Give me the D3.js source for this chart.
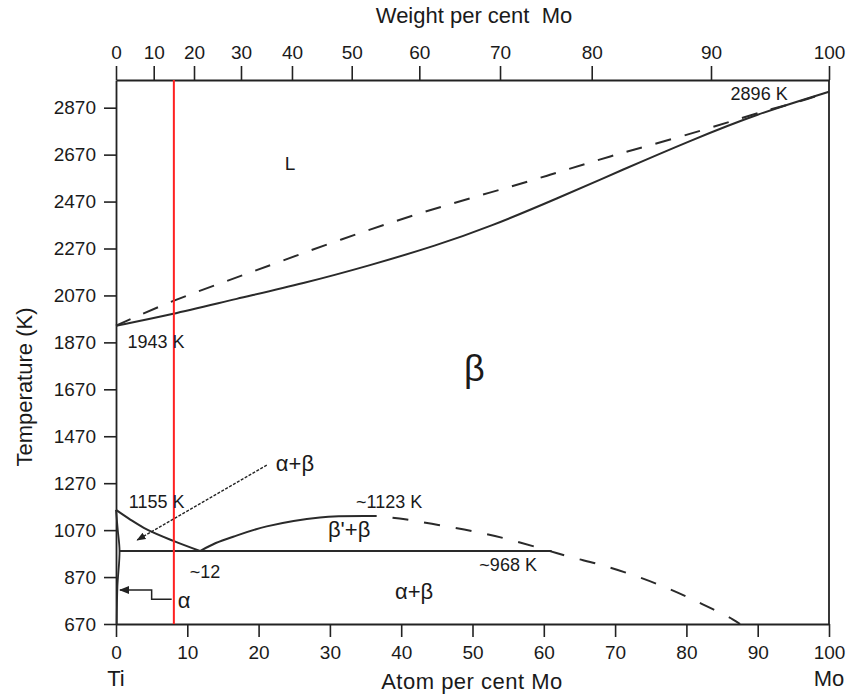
<!DOCTYPE html>
<html>
<head>
<meta charset="utf-8">
<script src="https://cdn.jsdelivr.net/npm/d3@7"></script>
<style>
  html, body { margin: 0; padding: 0; background: #fff; }
  text { font-family: "Liberation Sans", Arial, Helvetica, sans-serif; fill: #1a1a1a; }
</style>
</head>
<body>
<svg id="chart" width="850" height="698"></svg>
<script>
// ---------- data (atom % Mo, temperature K) ----------
const atomTicks = [0, 10, 20, 30, 40, 50, 60, 70, 80, 90, 100];
const weightTicks = [0, 10, 20, 30, 40, 50, 60, 70, 80, 90, 100];
// atom % position of each weight % tick
const weightTickAtom = [0, 5.29, 10.94, 17.53, 24.68, 33.06, 42.54, 53.86, 66.72, 83.45, 100];
const tempTicks = [670, 870, 1070, 1270, 1470, 1670, 1870, 2070, 2270, 2470, 2670, 2870];
const tempDomain = [670, 2988];

const liquidus = [[0, 1941], [8.04, 2051], [18.33, 2161], [30.48, 2299], [43.1, 2427], [52.45, 2508],
  [60.87, 2583], [69.28, 2664], [77.94, 2735], [87.05, 2818], [91.26, 2860], [95.47, 2891], [100, 2938]];
const solidus = [[0, 1941], [7.57, 1987], [16.93, 2056], [26.27, 2121], [35.62, 2198], [44.98, 2283],
  [52.45, 2363], [61.81, 2482], [71.15, 2607], [80.5, 2729], [89.86, 2843], [100, 2938]];
const betaTransus = [[0, 1156], [2, 1115], [4.31, 1073], [7.95, 1025], [11.78, 981]];
const gapSolid = [[11.78, 981], [14, 1015], [16.44, 1042], [21.14, 1086], [28.6, 1124], [36.56, 1130]];
const gapDashed = [[36.56, 1130], [40.53, 1116], [45.2, 1092], [50.11, 1065], [54.88, 1032], [59.8, 990],
  [63.53, 957], [68.12, 921], [73.03, 873], [77.7, 818], [82.15, 756], [86.49, 690], [87.52, 670]];
const alphaSolvus = [[0, 1156], [0.25, 1070], [0.5, 981], [0.2, 830], [0.1, 670]];
const eutectoid = [[0.5, 981], [61.1, 981]];
const redLineWeight = 15;

const alphaBetaArrow = [[21.15, 1347], [2.98, 1028]];
const alphaLeader = [[0.56, 815], [5.0, 815], [5.0, 775], [7.81, 775]];

const labels = [
  { t: "L", x: 24.4, T: 2633, s: 19 },
  { t: "β", x: 50.25, T: 1760, s: 36 },
  { t: "1943 K", x: 5.6, T: 1873, s: 18 },
  { t: "2896 K", x: 90.2, T: 2931, s: 18 },
  { t: "1155 K", x: 5.7, T: 1191, s: 18 },
  { t: "~1123 K", x: 38.3, T: 1191, s: 18 },
  { t: "β'+β", x: 32.7, T: 1072, s: 22 },
  { t: "~12", x: 12.48, T: 893, s: 18 },
  { t: "~968 K", x: 55.0, T: 921, s: 18 },
  { t: "α+β", x: 41.8, T: 808, s: 22 },
  { t: "α", x: 9.54, T: 772, s: 22 },
  { t: "α+β", x: 25.1, T: 1355, s: 22 }
];

// ---------- drawing ----------
const svg = d3.select("#chart");
const x = d3.scaleLinear().domain([0, 100]).range([116, 829]);
const y = d3.scaleLinear().domain(tempDomain).range([624, 80]);
const wt = d3.scaleLinear().domain(weightTicks).range(weightTickAtom.map(v => x(v)));

const lineRaw = d3.line().x(d => x(d[0])).y(d => y(d[1]));
const lineCat = d3.line().x(d => x(d[0])).y(d => y(d[1])).curve(d3.curveCatmullRom.alpha(0.5));
const lineBasis = d3.line().x(d => x(d[0])).y(d => y(d[1])).curve(d3.curveBasis);

const defs = svg.append("defs");
defs.append("marker").attr("id", "arr").attr("viewBox", "0 0 10 10")
  .attr("refX", 9).attr("refY", 5).attr("markerWidth", 7).attr("markerHeight", 7)
  .attr("orient", "auto-start-reverse")
  .append("path").attr("d", "M0,1 L10,5 L0,9 Z").attr("fill", "#222");

// axes
function styleAxis(g, size) {
  g.selectAll("path.domain").attr("stroke", "#222").attr("stroke-width", 1.8);
  g.selectAll(".tick line").attr("stroke", "#222").attr("stroke-width", 1.6);
  g.selectAll(".tick text").style("font-size", size + "px").attr("fill", "#1a1a1a")
    .style("font-family", '"Liberation Sans", Arial, sans-serif');
}
const fmt = d3.format("d");
const gB = svg.append("g").attr("transform", "translate(0,624)")
  .call(d3.axisBottom(x).tickValues(atomTicks).tickFormat(fmt).tickSizeInner(13).tickSizeOuter(0).tickPadding(9));
styleAxis(gB, 19);
const gT = svg.append("g").attr("transform", "translate(0,80)")
  .call(d3.axisTop(wt).tickValues(weightTicks).tickFormat(fmt).tickSizeInner(14).tickSizeOuter(0).tickPadding(7));
styleAxis(gT, 19);
const gL = svg.append("g").attr("transform", "translate(116,0)")
  .call(d3.axisLeft(y).tickValues(tempTicks).tickFormat(fmt).tickSizeInner(12).tickSizeOuter(0).tickPadding(8));
styleAxis(gL, 19);
svg.append("line").attr("x1", x(100)).attr("x2", x(100)).attr("y1", y(tempDomain[1])).attr("y2", y(tempDomain[0]))
  .attr("stroke", "#222").attr("stroke-width", 1.8);

// axis titles
svg.append("text").attr("x", 474).attr("y", 15).attr("dy", "0.35em").attr("text-anchor", "middle")
  .style("font-size", "22px").style("white-space", "pre").text("Weight per cent  Mo");
svg.append("text").attr("x", 472).attr("y", 681).attr("dy", "0.35em").attr("text-anchor", "middle")
  .style("font-size", "22px").style("letter-spacing", "0.5px").text("Atom per cent Mo");
svg.append("text").attr("x", x(0)).attr("y", 678).attr("dy", "0.35em").attr("text-anchor", "middle")
  .style("font-size", "22px").text("Ti");
svg.append("text").attr("x", x(100)).attr("y", 678).attr("dy", "0.35em").attr("text-anchor", "middle")
  .style("font-size", "22px").text("Mo");
svg.append("text").attr("transform", "translate(24,387) rotate(-90)").attr("dy", "0.35em")
  .attr("text-anchor", "middle").style("font-size", "22px").text("Temperature (K)");

// phase boundaries
const ink = "#2a2a2a";
svg.append("path").attr("d", lineBasis(solidus)).attr("fill", "none").attr("stroke", ink).attr("stroke-width", 2);
svg.append("path").attr("d", lineBasis(liquidus)).attr("fill", "none").attr("stroke", ink).attr("stroke-width", 2)
  .attr("stroke-dasharray", "16,14");
svg.append("path").attr("d", lineCat(betaTransus)).attr("fill", "none").attr("stroke", ink).attr("stroke-width", 2);
svg.append("path").attr("d", lineCat(gapSolid)).attr("fill", "none").attr("stroke", ink).attr("stroke-width", 2);
svg.append("path").attr("d", lineCat(gapDashed)).attr("fill", "none").attr("stroke", ink).attr("stroke-width", 2)
  .attr("stroke-dasharray", "16,16").attr("stroke-dashoffset", -16);
svg.append("path").attr("d", lineCat(alphaSolvus)).attr("fill", "none").attr("stroke", ink).attr("stroke-width", 1.8);
svg.append("path").attr("d", lineRaw(eutectoid)).attr("fill", "none").attr("stroke", ink).attr("stroke-width", 1.8);

// annotations
svg.append("path").attr("d", lineRaw(alphaBetaArrow)).attr("fill", "none").attr("stroke", "#222")
  .attr("stroke-width", 1.3).attr("stroke-dasharray", "3,1.5").attr("marker-end", "url(#arr)");
svg.append("path").attr("d", lineRaw(alphaLeader)).attr("fill", "none").attr("stroke", "#222")
  .attr("stroke-width", 1.5).attr("marker-start", "url(#arr)");

// red composition line (15 wt% Mo)
svg.append("line").attr("x1", wt(redLineWeight)).attr("x2", wt(redLineWeight))
  .attr("y1", y(tempDomain[1])).attr("y2", y(tempDomain[0]))
  .attr("stroke", "#ff2020").attr("stroke-width", 2);

svg.selectAll("text.lab").data(labels).join("text").attr("class", "lab")
  .attr("x", d => x(d.x)).attr("y", d => y(d.T)).attr("dy", "0.35em").attr("text-anchor", "middle")
  .style("font-size", d => d.s + "px").text(d => d.t);
</script>
</body>
</html>
